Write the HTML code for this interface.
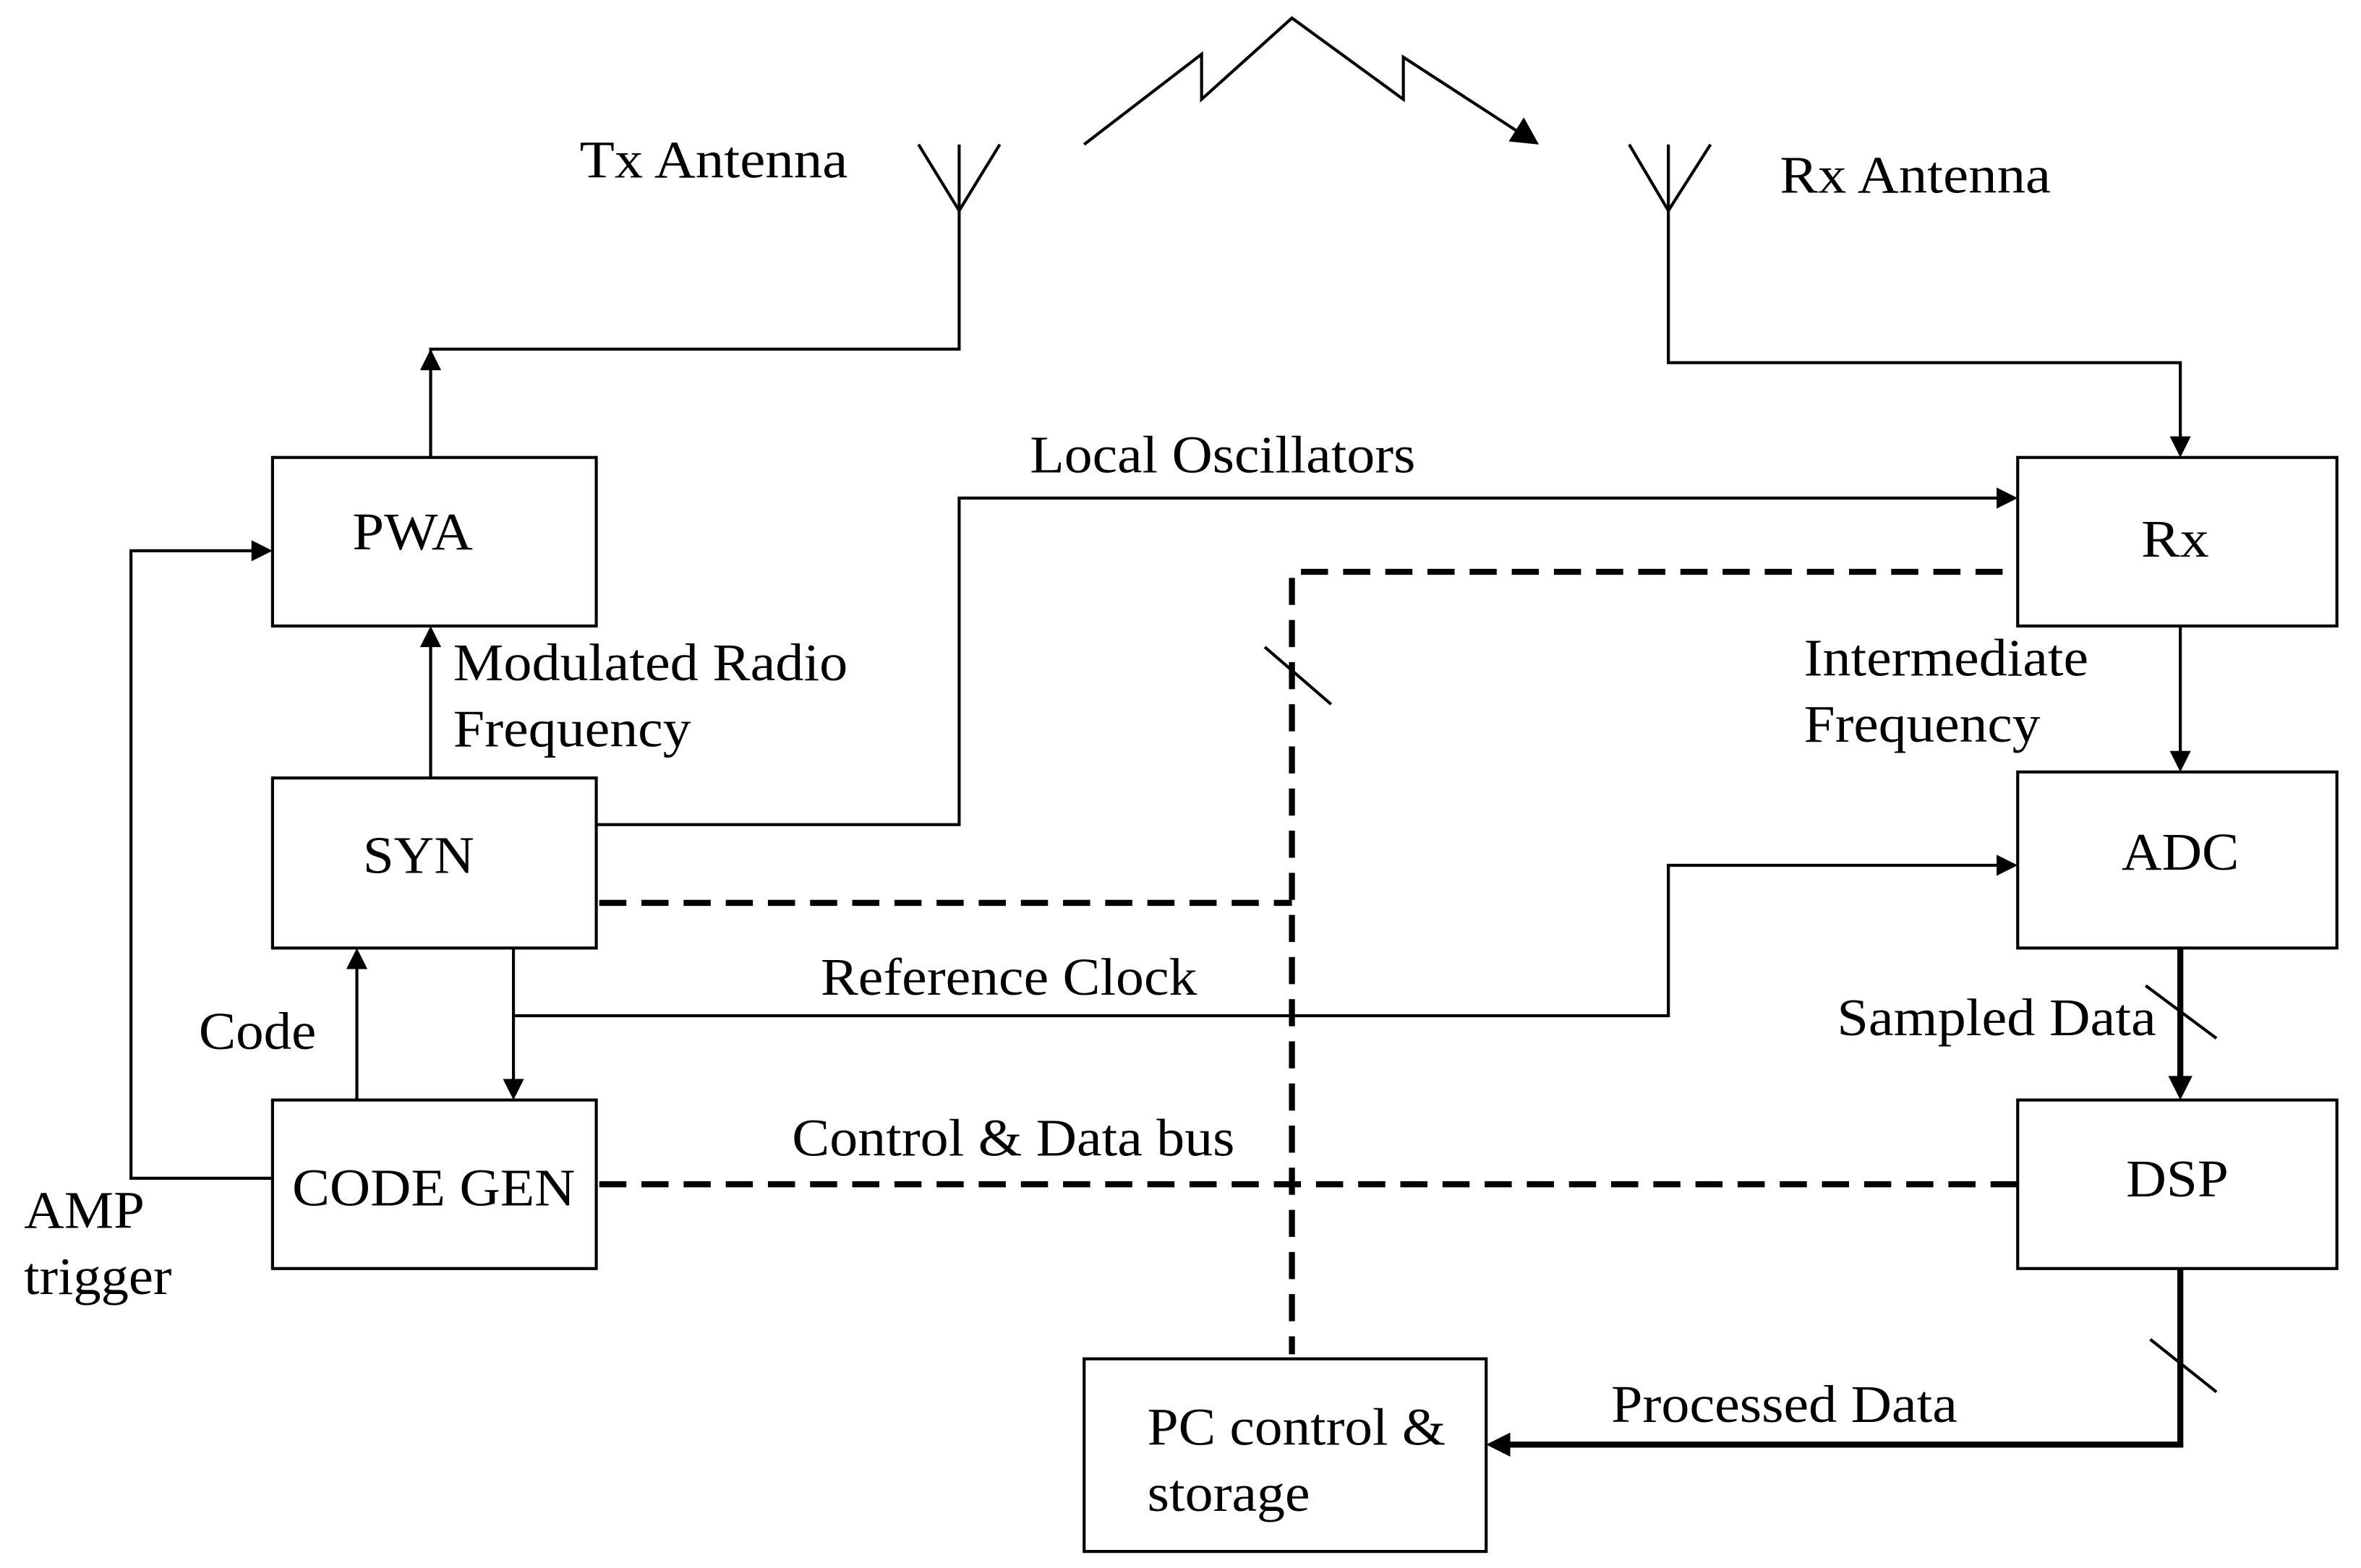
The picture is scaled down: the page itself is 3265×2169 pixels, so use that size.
<!DOCTYPE html>
<html><head><meta charset="utf-8"><style>html,body{margin:0;padding:0;background:#fff}svg{display:block}</style></head>
<body>
<svg width="3265" height="2169" viewBox="0 0 1568 1042" preserveAspectRatio="none" xmlns="http://www.w3.org/2000/svg">
<g fill="none" stroke="#000" stroke-width="2">
<rect x="181" y="304" width="215" height="112"/>
<rect x="181" y="517" width="215" height="113"/>
<rect x="181" y="731" width="215" height="112"/>
<rect x="1340" y="304" width="212" height="112"/>
<rect x="1340" y="513" width="212" height="117"/>
<rect x="1340" y="731" width="212" height="112"/>
<rect x="720" y="903" width="267" height="128"/>
<path d="M610,96 L637,140 L664,96 M637,96 V140"/>
<path d="M1082,96 L1108,140 L1136,96 M1108,96 V140"/>
<path d="M286,304 V232 H637 V140"/>
<path d="M1108,140 V241 H1448 V302"/>
<path d="M720,96 L798,36 V66 L858,12 L932,66 V38 L1012,90"/>
<path d="M396,548 H637 V331 H1338"/>
<path d="M286,517 V418"/>
<path d="M237,731 V632"/>
<path d="M341,630 V729"/>
<path d="M341,675 H1108 V575 H1338"/>
<path d="M181,783 H87 V366 H179"/>
<path d="M1448,416 V511"/>
<path d="M840,430 L884,468"/>
<path d="M1425,655 L1472,690"/>
<path d="M1428,890 L1472,925"/>
</g>
<g fill="#000">
<path d="M286,232 l-7,14 h14z"/>
<path d="M1448,304 l-7,-14 h14z"/>
<path d="M1022,96 l-20,-2 l10,-16z"/>
<path d="M1340,331 l-14,-7 v14z"/>
<path d="M286,416 l-7,14 h14z"/>
<path d="M237,630 l-7,14 h14z"/>
<path d="M341,731 l-7,-14 h14z"/>
<path d="M1340,575 l-14,-7 v14z"/>
<path d="M181,366 l-14,-7 v14z"/>
<path d="M1448,513 l-7,-14 h14z"/>
<path d="M1448,731 l-8,-16 h16z"/>
<path d="M987,960 l16,-8 v16z"/>
</g>
<g fill="none" stroke="#000" stroke-width="4">
<path d="M1448,630 V716"/>
<path d="M1448,843 V960 H1000"/>
</g>
<g fill="none" stroke="#000" stroke-width="4" stroke-dasharray="18,10">
<path d="M1330,380 H858 V900"/>
<path d="M398,600 H858"/>
<path d="M398,787 H1340"/>
</g>
<g font-family="Liberation Serif, serif" font-size="35" fill="#000" lengthAdjust="spacingAndGlyphs">
<text x="385" y="118" textLength="178" lengthAdjust="spacingAndGlyphs">Tx Antenna</text>
<text x="1182" y="128" textLength="180" lengthAdjust="spacingAndGlyphs">Rx Antenna</text>
<text x="684" y="314" textLength="256" lengthAdjust="spacingAndGlyphs">Local Oscillators</text>
<text x="234" y="365" textLength="80" lengthAdjust="spacingAndGlyphs">PWA</text>
<text x="1422" y="370" textLength="45" lengthAdjust="spacingAndGlyphs">Rx</text>
<text x="301" y="452" textLength="262" lengthAdjust="spacingAndGlyphs">Modulated Radio</text>
<text x="301" y="496" textLength="158" lengthAdjust="spacingAndGlyphs">Frequency</text>
<text x="1198" y="449" textLength="189" lengthAdjust="spacingAndGlyphs">Intermediate</text>
<text x="1198" y="493" textLength="157" lengthAdjust="spacingAndGlyphs">Frequency</text>
<text x="241" y="580" textLength="74" lengthAdjust="spacingAndGlyphs">SYN</text>
<text x="1409" y="578" textLength="78" lengthAdjust="spacingAndGlyphs">ADC</text>
<text x="545" y="661" textLength="250" lengthAdjust="spacingAndGlyphs">Reference Clock</text>
<text x="132" y="697" textLength="78" lengthAdjust="spacingAndGlyphs">Code</text>
<text x="1220" y="688" textLength="212" lengthAdjust="spacingAndGlyphs">Sampled Data</text>
<text x="526" y="768" textLength="294" lengthAdjust="spacingAndGlyphs">Control &amp; Data bus</text>
<text x="194" y="801" textLength="188" lengthAdjust="spacingAndGlyphs">CODE GEN</text>
<text x="1412" y="795" textLength="68" lengthAdjust="spacingAndGlyphs">DSP</text>
<text x="16" y="816" textLength="80" lengthAdjust="spacingAndGlyphs">AMP</text>
<text x="16" y="860" textLength="98" lengthAdjust="spacingAndGlyphs">trigger</text>
<text x="1070" y="945" textLength="230" lengthAdjust="spacingAndGlyphs">Processed Data</text>
<text x="762" y="960" textLength="198" lengthAdjust="spacingAndGlyphs">PC control &amp;</text>
<text x="762" y="1004" textLength="108" lengthAdjust="spacingAndGlyphs">storage</text>
</g>
</svg>
</body></html>
